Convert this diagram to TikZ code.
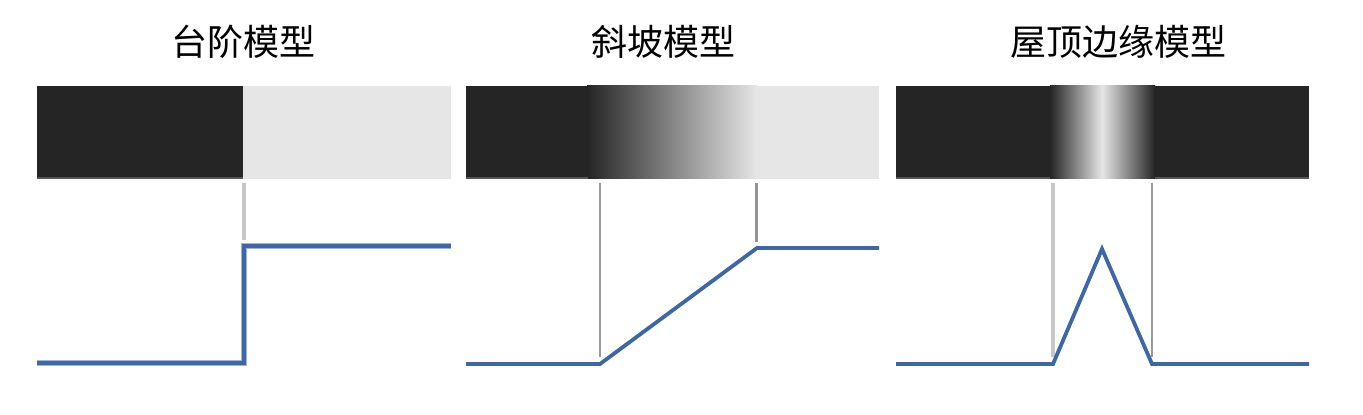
\documentclass[tikz,border=0pt]{standalone}
\usepackage{fontspec}
\newfontfamily\cjk{Noto Sans CJK SC}
\definecolor{dark}{HTML}{262526}
\definecolor{light}{HTML}{E6E6E6}
\definecolor{blueline}{HTML}{3D67A6}
\definecolor{bluehalo}{HTML}{9BB6D6}
\definecolor{edge}{HTML}{555555}
\tikzset{
  title/.style={font=\cjk\fontsize{18}{21}\selectfont, anchor=center, inner sep=0pt},
  profile/.style={draw=blueline, line width=1.9pt, line join=miter},
  halo/.style={draw=bluehalo, line width=3.4pt},
  marklight/.style={draw=black!22, line width=2pt},
  markmid/.style={draw=black!42, line width=1.5pt},
  markthin/.style={draw=black!40, line width=1pt},
}
\begin{document}
\begin{tikzpicture}[x=0.5pt,y=-0.5pt]
\useasboundingbox (0,0) rectangle (1363,415);
% titles
\node[title] (t1) at (243,42) {台阶模型};
\node[title] (t2) at (663,42) {斜坡模型};
\node[title] (t3) at (1118,42) {屋顶边缘模型};
% panel 1 strip
\fill[dark] (37,86) rectangle (243,179);
\fill[light] (243,86) rectangle (451,179);
\draw[edge, line width=1pt] (37,178.5) -- (243,178.5);
% panel 2 strip
\fill[dark] (466,86) rectangle (588,179);
\shade[left color=dark, right color=light] (587,86) rectangle (757,179);
\fill[light] (756,86) rectangle (879,179);
\draw[edge, line width=1pt] (466,178.5) -- (588,178.5);
% panel 3 strip
\fill[dark] (896,86) rectangle (1051,179);
\shade[left color=dark, right color=light] (1050,86) rectangle (1102,179);
\shade[left color=light, right color=dark] (1102,86) rectangle (1155,179);
\fill[dark] (1154,86) rectangle (1309,179);
\draw[edge, line width=1pt] (896,178.5) -- (1050,178.5);
\draw[edge, line width=1pt] (1155,178.5) -- (1309,178.5);
% markers
\draw[marklight] (244,183) -- (244,240);
\draw[markthin] (600,183) -- (600,357);
\draw[markmid] (756,183) -- (756,242);
\draw[marklight] (1053,183) -- (1053,357);
\draw[markthin] (1152,183) -- (1152,357);
% profiles
\draw[halo] (37,363) -- (244,363) -- (244,246) -- (451,246);
\draw[profile] (37,363) -- (244,363) -- (244,246) -- (451,246);
\draw[profile] (466,364) -- (600,364) -- (757,248) -- (879,248);
\draw[profile] (896,364) -- (1053,364) -- (1102,249) -- (1152,364) -- (1309,364);
\end{tikzpicture}
\end{document}
